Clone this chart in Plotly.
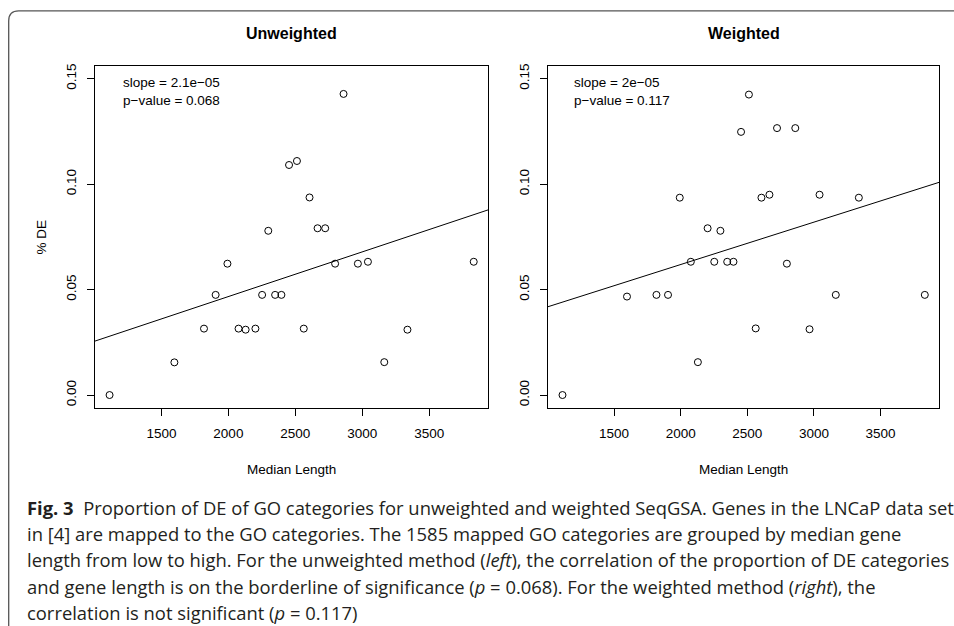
import plotly.graph_objects as go

# ---------------- data ----------------
median_length = [1113, 1597, 1818, 1905, 1993, 2076, 2129, 2202, 2252, 2298, 2349, 2396,
                 2453, 2512, 2563, 2606, 2666, 2723, 2797, 2860, 2967, 3042, 3164, 3337, 3832]
de_unweighted = [0.0, 0.0155, 0.0315, 0.0475, 0.0623, 0.0315, 0.031, 0.0315, 0.0475, 0.0779,
                 0.0475, 0.0475, 0.1091, 0.111, 0.0315, 0.0937, 0.0791, 0.0791, 0.0623, 0.1428,
                 0.0623, 0.0632, 0.0156, 0.031, 0.0632]
de_weighted = [0.0, 0.0467, 0.0475, 0.0475, 0.0936, 0.0632, 0.0156, 0.0791, 0.0632, 0.0779,
               0.0632, 0.0632, 0.1248, 0.1425, 0.0316, 0.0936, 0.095, 0.1266, 0.0623, 0.1266,
               0.0312, 0.095, 0.0475, 0.0936, 0.0475]
fit_unweighted = {"intercept": 0.0043, "slope": 2.12e-5}
fit_weighted = {"intercept": 0.0217, "slope": 2.01e-5}
panel_titles = ["Unweighted", "Weighted"]
stat_labels = ["slope = 2.1e\u221205<br>p\u2212value = 0.068",
               "slope = 2e\u221205<br>p\u2212value = 0.117"]
x_ticks = [1500, 2000, 2500, 3000, 3500]
y_ticks = [0.0, 0.05, 0.10, 0.15]
y_lim = [0.0, 0.15]
caption_lines = [
    "<b>Fig. 3</b>  Proportion of DE of GO categories for unweighted and weighted SeqGSA. Genes in the LNCaP data set",
    "in [4] are mapped to the GO categories. The 1585 mapped GO categories are grouped by median gene",
    "length from low to high. For the unweighted method (<i>left</i>), the correlation of the proportion of DE categories",
    "and gene length is on the borderline of significance (<i>p</i> = 0.068). For the weighted method (<i>right</i>), the",
    "correlation is not significant (<i>p</i> = 0.117)",
]

W, H = 954, 626
def px(x):
    return x / W
def py(y):
    return 1 - y / H

# R-style 4% axis extension
xmin, xmax = min(median_length), max(median_length)
xr = [xmin - 0.04 * (xmax - xmin), xmax + 0.04 * (xmax - xmin)]
yr = [y_lim[0] - 0.04 * (y_lim[1] - y_lim[0]), y_lim[1] + 0.04 * (y_lim[1] - y_lim[0])]

PLOT_FONT = "Liberation Sans, Arial, Helvetica, sans-serif"
CAP_FONT = "Open Sans, Noto Sans, sans-serif"

fig = go.Figure()
series = [(de_unweighted, fit_unweighted, "x", "y"), (de_weighted, fit_weighted, "x2", "y2")]
for vals, fit, xa, ya in series:
    fig.add_trace(go.Scatter(x=median_length, y=vals, mode="markers", xaxis=xa, yaxis=ya,
                             marker=dict(symbol="circle-open", size=7, color="black",
                                         line=dict(width=1, color="black")),
                             showlegend=False, hoverinfo="x+y"))
    fig.add_trace(go.Scatter(x=xr, y=[fit["intercept"] + fit["slope"] * v for v in xr],
                             mode="lines", xaxis=xa, yaxis=ya,
                             line=dict(color="black", width=1), showlegend=False))

ax_common = dict(showline=True, mirror=True, linecolor="black", linewidth=1,
                 ticks="outside", ticklen=7, tickwidth=1, tickcolor="black",
                 showgrid=False, zeroline=False,
                 tickfont=dict(family=PLOT_FONT, size=13.5, color="black"))

dom_y = [py(407), py(64.3)]
fig.update_layout(
    width=W, height=H, margin=dict(l=0, r=0, t=0, b=0),
    paper_bgcolor="white", plot_bgcolor="white",
    xaxis=dict(domain=[px(95), px(488.3)], range=xr, tickvals=x_ticks, anchor="y",
               ticklabelstandoff=6, **ax_common),
    yaxis=dict(domain=dom_y, range=yr, tickvals=y_ticks, tickformat=".2f", tickangle=-90,
               anchor="x", ticklabelstandoff=6, **ax_common),
    xaxis2=dict(domain=[px(548), px(939.3)], range=xr, tickvals=x_ticks, anchor="y2",
                ticklabelstandoff=6, **ax_common),
    yaxis2=dict(domain=dom_y, range=yr, tickvals=y_ticks, tickformat=".2f", tickangle=-90,
                anchor="x2", ticklabelstandoff=6, **ax_common),
)

anns = []
centers = [(95 + 488.3) / 2, (548 + 939.3) / 2]
lefts = [120.7, 572.3]
for i in range(2):
    anns.append(dict(text="<b>%s</b>" % panel_titles[i], x=px(centers[i]), y=py(31.7),
                     xref="paper", yref="paper", showarrow=False, xanchor="center", yanchor="middle",
                     font=dict(family=PLOT_FONT, size=16, color="black")))
    anns.append(dict(text="Median Length", x=px(centers[i]), y=py(469),
                     xref="paper", yref="paper", showarrow=False, xanchor="center", yanchor="middle",
                     font=dict(family=PLOT_FONT, size=13.5, color="black")))
    anns.append(dict(text=stat_labels[i], x=px(lefts[i]), y=py(89.5),
                     xref="paper", yref="paper", showarrow=False, xanchor="left", yanchor="middle",
                     align="left",
                     font=dict(family=PLOT_FONT, size=13.5, color="black")))
anns.append(dict(text="% DE", x=px(41.7), y=py(235.5), xref="paper", yref="paper",
                 showarrow=False, textangle=-90, xanchor="center", yanchor="middle",
                 font=dict(family=PLOT_FONT, size=13.5, color="black")))
for k, line in enumerate(caption_lines):
    anns.append(dict(text=line, x=px(25), y=py(507 + 26.3 * k), xref="paper", yref="paper",
                     showarrow=False, xanchor="left", yanchor="middle", align="left",
                     font=dict(family=CAP_FONT, size=18.4, color="#231f20")))
fig.update_layout(annotations=anns)

# outer frame (top + left, rounded corner)
x0, y0, r = 8.7, 9, 10
path = "M %f,%f L %f,%f Q %f,%f %f,%f L %f,%f" % (
    px(x0), py(H + 5), px(x0), py(y0 + r), px(x0), py(y0), px(x0 + r), py(y0), px(W + 5), py(y0))
fig.add_shape(type="path", path=path, xref="paper", yref="paper",
              line=dict(color="#555555", width=1.3))

fig.write_html("out.html", config={"displayModeBar": False},
               post_script="document.body.style.margin='0';document.body.style.overflow='hidden';")
